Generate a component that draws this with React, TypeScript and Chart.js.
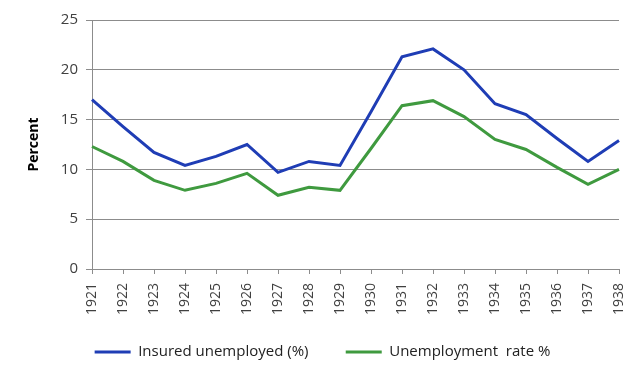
import React, { useEffect, useRef } from "react";
import { Chart, registerables } from "chart.js";

Chart.register(...registerables);

const years = ["1921","1922","1923","1924","1925","1926","1927","1928","1929","1930","1931","1932","1933","1934","1935","1936","1937","1938"];
const insuredUnemployed = [17.0,14.3,11.7,10.4,11.3,12.5,9.7,10.8,10.4,15.8,21.3,22.1,20.0,16.6,15.5,13.1,10.8,12.9];
const unemploymentRate = [12.3,10.8,8.9,7.9,8.6,9.6,7.4,8.2,7.9,12.1,16.4,16.9,15.3,13.0,12.0,10.2,8.5,10.0];
const seriesNames = ["Insured unemployed (%)", "Unemployment  rate %"];
const yTitle = "Percent";

const FONT = "'Open Sans', 'Noto Sans', sans-serif";
const GRID = "#8c8c8c";

export default function App() {
  const ref = useRef<HTMLCanvasElement>(null);
  useEffect(() => {
    if (!ref.current) return;
    const chart = new Chart(ref.current, {
      type: "line",
      data: {
        labels: years,
        datasets: [
          {
            label: seriesNames[0],
            data: insuredUnemployed,
            borderColor: "#1f3db5",
            backgroundColor: "#1f3db5",
            borderWidth: 3,
            pointRadius: 0,
            tension: 0,
          },
          {
            label: seriesNames[1],
            data: unemploymentRate,
            borderColor: "#3f9a3f",
            backgroundColor: "#3f9a3f",
            borderWidth: 3,
            pointRadius: 0,
            tension: 0,
          },
        ],
      },
      options: {
        responsive: false,
        animation: false,
        layout: { padding: { top: 20, right: 21, left: 26, bottom: 15.5 } },
        scales: {
          x: {
            offset: false,
            grid: { drawOnChartArea: false, drawTicks: true, tickLength: 5, color: GRID },
            border: { color: GRID },
            ticks: {
              maxRotation: 90,
              minRotation: 90,
              autoSkip: false,
              padding: 9,
              color: "#404040",
              font: { family: FONT, size: 14 },
            },
            afterFit: (s: any) => {
              s.height = 65.5;
              s.paddingRight = 0;
              s.paddingLeft = 0;
            },
          },
          y: {
            min: 0,
            max: 25,
            ticks: { stepSize: 5, padding: 8, color: "#404040", font: { family: FONT, size: 15 } },
            grid: { color: GRID, tickLength: 6 },
            border: { color: GRID },
            title: {
              display: true,
              text: yTitle,
              color: "#000",
              font: { family: FONT, size: 14, weight: "bold" },
              padding: { top: 0, bottom: 0 },
            },
            afterFit: (s: any) => { s.width = 66; },
          },
        },
        plugins: {
          legend: {
            position: "bottom",
            labels: {
              usePointStyle: true,
              pointStyle: "line",
              pointStyleWidth: 36,
              color: "#222",
              font: { family: FONT, size: 15 },
              padding: 10,
              generateLabels: (c: any) => {
                const items = Chart.defaults.plugins.legend.labels.generateLabels(c);
                items.forEach((it: any, i: number) => {
                  it.pointStyle = "line";
                  if (i === 0) it.text = it.text + " ".repeat(7);
                });
                return items;
              },
            },
          },
          tooltip: { enabled: false },
        },
      },
    });
    return () => chart.destroy();
  }, []);
  return (
    <div style={{ position: "absolute", left: 0, top: 0, width: 640, height: 385, background: "#fff" }}>
      <canvas ref={ref} width={640} height={385} />
    </div>
  );
}
